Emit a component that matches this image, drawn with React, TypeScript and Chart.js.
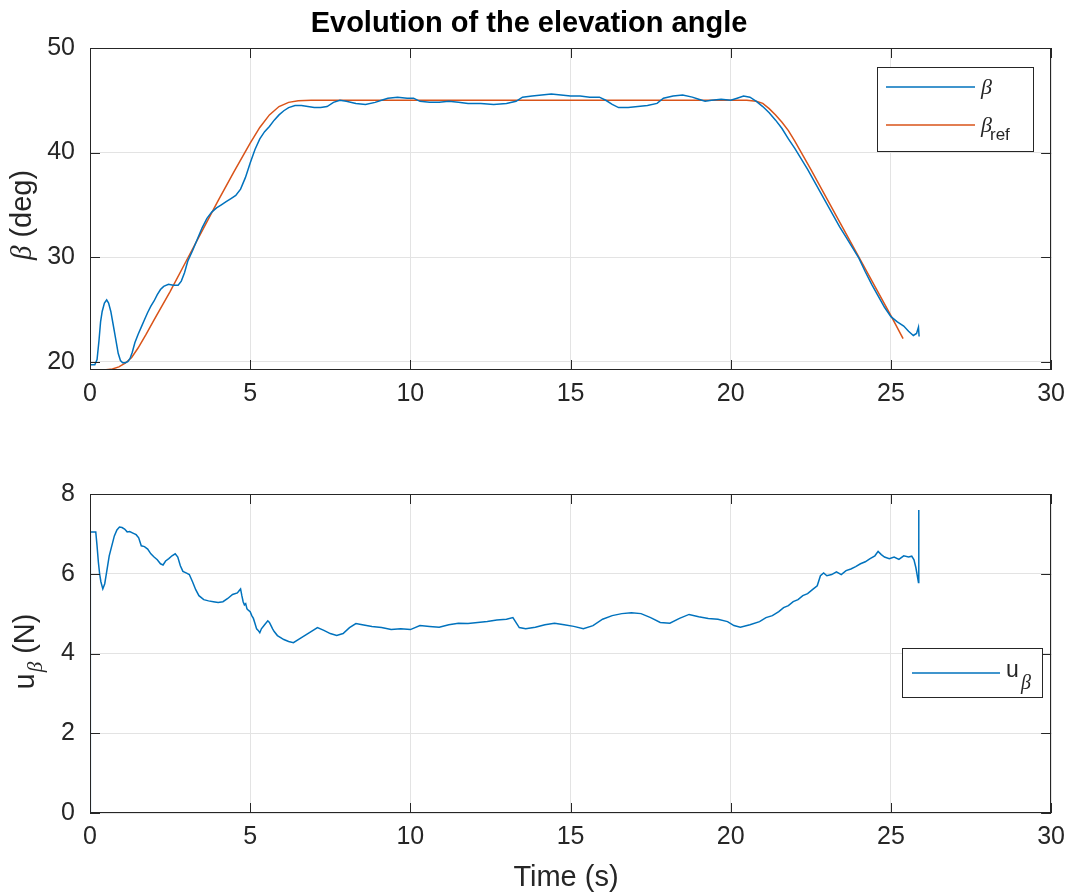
import React, { useEffect, useRef } from "react";
import { Chart, registerables } from "chart.js";

Chart.register(...registerables);

// ---------------- data ----------------
const xTicks = [0, 5, 10, 15, 20, 25, 30];
const betaTicks = [20, 30, 40, 50];
const uTicks = [0, 2, 4, 6, 8];

const timeBeta = [
  0.0, 0.15, 0.22, 0.28, 0.33, 0.38, 0.45, 0.52, 0.58, 0.65, 0.72, 0.8, 0.88, 0.95, 1.02, 1.1, 1.18, 1.25, 1.32, 1.4,
  1.5, 1.6, 1.7, 1.8, 1.9, 2.0, 2.1, 2.2, 2.3, 2.45, 2.6, 2.75, 2.85, 2.95, 3.05, 3.2, 3.35, 3.5, 3.65, 3.8,
  3.95, 4.1, 4.25, 4.4, 4.55, 4.7, 4.85, 5.0, 5.15, 5.3, 5.45, 5.6, 5.75, 5.9, 6.05, 6.2, 6.4, 6.6, 6.8, 7.0,
  7.2, 7.4, 7.6, 7.8, 8.0, 8.3, 8.6, 8.9, 9.1, 9.3, 9.6, 9.9, 10.1, 10.3, 10.6, 10.9, 11.2, 11.5, 11.8, 12.2,
  12.6, 13.0, 13.3, 13.5, 13.8, 14.1, 14.4, 14.7, 15.0, 15.3, 15.6, 15.9, 16.1, 16.3, 16.5, 16.8, 17.1, 17.4, 17.7, 17.9,
  18.2, 18.5, 18.8, 19.0, 19.2, 19.4, 19.7, 20.0, 20.2, 20.4, 20.6, 20.8, 21.0, 21.2, 21.4, 21.6, 21.8, 22.0, 22.2, 22.4,
  22.6, 22.8, 23.0, 23.2, 23.4, 23.6, 23.8, 24.0, 24.2, 24.4, 24.6, 24.8, 25.0, 25.2, 25.4, 25.55, 25.7, 25.8, 25.86, 25.88,
];
const betaValues = [
  19.7, 19.7, 20.2, 22.0, 23.8, 24.8, 25.6, 25.9, 25.6, 24.8, 23.6, 22.2, 20.8, 20.1, 19.9, 19.9, 20.0, 20.3, 20.9, 21.8,
  22.6, 23.3, 24.0, 24.7, 25.3, 25.8, 26.4, 26.9, 27.2, 27.4, 27.3, 27.3, 27.7, 28.5, 29.6, 30.6, 31.7, 32.8, 33.7, 34.3,
  34.7, 35.0, 35.3, 35.6, 35.9, 36.5, 37.6, 39.0, 40.3, 41.3, 42.0, 42.5, 43.1, 43.6, 44.0, 44.3, 44.5, 44.5, 44.4, 44.3,
  44.3, 44.4, 44.8, 45.0, 44.9, 44.7, 44.6, 44.8, 45.0, 45.2, 45.3, 45.2, 45.2, 44.9, 44.8, 44.8, 44.9, 44.8, 44.7, 44.7,
  44.6, 44.7, 44.9, 45.3, 45.4, 45.5, 45.6, 45.5, 45.4, 45.4, 45.3, 45.3, 45.0, 44.6, 44.3, 44.3, 44.4, 44.5, 44.7, 45.2,
  45.4, 45.5, 45.3, 45.1, 44.9, 45.0, 45.1, 45.0, 45.2, 45.4, 45.3, 44.9, 44.4, 43.8, 43.1, 42.3, 41.3, 40.4, 39.4, 38.4,
  37.3, 36.2, 35.1, 34.0, 32.9, 31.9, 30.9, 29.9, 28.6, 27.4, 26.3, 25.2, 24.3, 23.8, 23.4, 22.9, 22.5, 22.7, 23.3, 22.4,
];

const timeRef = [
  0.0, 0.5, 0.7, 0.9, 1.1, 1.3, 1.5, 1.75, 2.0, 2.5, 3.0, 3.5, 4.0, 4.5, 5.0, 5.3, 5.6, 5.9, 6.2, 6.5,
  6.9, 20.5, 20.8, 21.0, 21.2, 21.4, 21.6, 21.8, 22.0, 22.5, 23.0, 23.5, 24.0, 24.5, 25.0, 25.38,
];
const betaRefValues = [
  19.2, 19.22, 19.3, 19.5, 19.85, 20.4, 21.3, 22.6, 24.0, 26.7, 29.6, 32.5, 35.4, 38.2, 40.9, 42.4, 43.6, 44.4, 44.8, 44.95,
  45.0, 45.0, 44.9, 44.7, 44.2, 43.6, 42.9, 42.1, 41.1, 38.4, 35.6, 32.8, 30.0, 27.2, 24.4, 22.2,
];

const timeU = [
  0.0, 0.01, 0.18, 0.22, 0.26, 0.3, 0.34, 0.4, 0.46, 0.52, 0.6, 0.68, 0.76, 0.84, 0.92, 1.0, 1.08, 1.16, 1.24, 1.34,
  1.44, 1.52, 1.6, 1.7, 1.8, 1.9, 2.0, 2.1, 2.2, 2.28, 2.36, 2.46, 2.56, 2.66, 2.74, 2.82, 2.9, 3.0, 3.1, 3.2,
  3.3, 3.4, 3.55, 3.7, 3.85, 4.0, 4.15, 4.3, 4.45, 4.6, 4.66, 4.7, 4.74, 4.78, 4.82, 4.86, 4.9, 4.95, 5.0, 5.05,
  5.1, 5.15, 5.2, 5.25, 5.3, 5.35, 5.45, 5.55, 5.6, 5.65, 5.7, 5.75, 5.85, 5.95, 6.05, 6.2, 6.35, 6.5, 6.7, 6.9,
  7.1, 7.3, 7.5, 7.7, 7.9, 8.1, 8.3, 8.5, 8.8, 9.1, 9.4, 9.7, 10.0, 10.3, 10.6, 10.9, 11.2, 11.5, 11.8, 12.1,
  12.4, 12.7, 13.0, 13.2, 13.4, 13.6, 13.9, 14.2, 14.5, 14.8, 15.1, 15.4, 15.7, 16.0, 16.3, 16.6, 16.9, 17.2, 17.5, 17.8,
  18.1, 18.4, 18.7, 19.0, 19.3, 19.6, 19.9, 20.1, 20.3, 20.6, 20.9, 21.1, 21.3, 21.5, 21.65, 21.8, 21.95, 22.1, 22.25, 22.4,
  22.55, 22.7, 22.8, 22.9, 23.0, 23.15, 23.3, 23.45, 23.6, 23.75, 23.9, 24.05, 24.2, 24.35, 24.5, 24.6, 24.7, 24.8, 24.95, 25.1,
  25.25, 25.4, 25.55, 25.65, 25.72, 25.78, 25.86, 25.87,
];
const uValues = [
  0.0, 7.05, 7.05, 6.7, 6.3, 6.0, 5.8, 5.62, 5.75, 6.05, 6.45, 6.7, 6.95, 7.1, 7.17, 7.16, 7.12, 7.05, 7.06, 7.02,
  6.98, 6.9, 6.7, 6.68, 6.62, 6.5, 6.42, 6.35, 6.25, 6.22, 6.32, 6.38, 6.45, 6.5, 6.42, 6.2, 6.06, 6.02, 5.98, 5.8,
  5.6, 5.45, 5.35, 5.32, 5.3, 5.28, 5.3, 5.38, 5.48, 5.52, 5.58, 5.62, 5.45, 5.3, 5.22, 5.25, 5.12, 5.08, 5.05, 4.95,
  4.88, 4.75, 4.62, 4.58, 4.52, 4.62, 4.72, 4.82, 4.78, 4.7, 4.62, 4.55, 4.45, 4.4, 4.35, 4.3, 4.27, 4.35, 4.45, 4.55,
  4.65, 4.58, 4.5, 4.45, 4.5, 4.65, 4.75, 4.72, 4.68, 4.65, 4.6, 4.62, 4.6, 4.7, 4.68, 4.66, 4.72, 4.76, 4.75, 4.78,
  4.8, 4.84, 4.86, 4.9, 4.65, 4.62, 4.66, 4.72, 4.76, 4.72, 4.68, 4.62, 4.7, 4.86, 4.95, 5.0, 5.02, 5.0, 4.9, 4.78,
  4.76, 4.88, 4.98, 4.92, 4.88, 4.86, 4.8, 4.7, 4.66, 4.72, 4.8, 4.9, 4.95, 5.05, 5.15, 5.2, 5.3, 5.35, 5.45, 5.5,
  5.6, 5.7, 5.95, 6.02, 5.95, 5.98, 6.05, 5.98, 6.08, 6.12, 6.18, 6.25, 6.3, 6.38, 6.45, 6.56, 6.48, 6.42, 6.38, 6.42,
  6.36, 6.45, 6.42, 6.44, 6.35, 6.15, 5.78, 7.6,
];

// ---------------- style ----------------
const SANS = '"Liberation Sans", Arial, Helvetica, sans-serif';
const SERIF = '"Liberation Serif", "Times New Roman", serif';
const BLUE = "#0072BD";
const ORANGE = "#D95319";
const AXIS = "#262626";
const GRID = "#E3E3E3";
const W = 1074;
const TOP_H = 440;
const BOT_H = 454;

const pts = (xs: number[], ys: number[]) => xs.map((x, i) => ({ x, y: ys[i] }));

function drawFrame(chart: any) {
  const { ctx, chartArea, scales } = chart;
  const { left, right, top, bottom } = chartArea;
  ctx.save();
  ctx.strokeStyle = AXIS;
  ctx.lineWidth = 1;
  ctx.strokeRect(Math.round(left) + 0.5, Math.round(top) + 0.5, Math.round(right - left) - 1, Math.round(bottom - top) - 1);
  const tl = 10;
  ctx.beginPath();
  scales.x.ticks.forEach((t: any) => {
    const px = Math.round(scales.x.getPixelForValue(t.value)) + 0.5;
    ctx.moveTo(px, bottom);
    ctx.lineTo(px, bottom - tl);
    ctx.moveTo(px, top);
    ctx.lineTo(px, top + tl);
  });
  scales.y.ticks.forEach((t: any) => {
    const py = Math.round(scales.y.getPixelForValue(t.value)) + 0.5;
    ctx.moveTo(left, py);
    ctx.lineTo(left + tl, py);
    ctx.moveTo(right, py);
    ctx.lineTo(right - tl, py);
  });
  ctx.stroke();
  ctx.restore();
}

function legendBox(ctx: CanvasRenderingContext2D, x: number, y: number, w: number, h: number) {
  ctx.fillStyle = "#ffffff";
  ctx.fillRect(x, y, w, h);
  ctx.strokeStyle = AXIS;
  ctx.lineWidth = 1;
  ctx.strokeRect(x + 0.5, y + 0.5, w, h);
}

function legendLine(ctx: CanvasRenderingContext2D, x1: number, x2: number, y: number, color: string) {
  ctx.strokeStyle = color;
  ctx.lineWidth = 1.5;
  ctx.beginPath();
  ctx.moveTo(x1, y);
  ctx.lineTo(x2, y);
  ctx.stroke();
}

const topDecor = {
  id: "topDecor",
  afterDraw(chart: any) {
    drawFrame(chart);
    const ctx = chart.ctx as CanvasRenderingContext2D;
    ctx.save();
    // title
    ctx.fillStyle = "#000000";
    ctx.font = `bold 29px ${SANS}`;
    ctx.textAlign = "center";
    ctx.textBaseline = "alphabetic";
    ctx.fillText("Evolution of the elevation angle", 529, 32);
    // y label
    ctx.fillStyle = AXIS;
    ctx.translate(31, 215);
    ctx.rotate(-Math.PI / 2);
    ctx.font = `italic 29px ${SERIF}`;
    const wb = ctx.measureText("β").width;
    ctx.font = `29px ${SANS}`;
    const wr = ctx.measureText(" (deg)").width;
    const start = -(wb + wr) / 2;
    ctx.textAlign = "left";
    ctx.font = `italic 29px ${SERIF}`;
    ctx.fillText("β", start, 0);
    ctx.font = `29px ${SANS}`;
    ctx.fillText(" (deg)", start + wb, 0);
    ctx.setTransform(1, 0, 0, 1, 0, 0);
    // legend
    legendBox(ctx, 877, 67, 156, 84);
    legendLine(ctx, 886, 975, 87, BLUE);
    legendLine(ctx, 886, 975, 125, ORANGE);
    ctx.fillStyle = AXIS;
    ctx.textAlign = "left";
    ctx.textBaseline = "alphabetic";
    ctx.font = `italic 22px ${SERIF}`;
    ctx.fillText("β", 981, 94);
    ctx.fillText("β", 981, 132);
    ctx.font = `17px ${SANS}`;
    ctx.fillText("ref", 990, 140);
    ctx.restore();
  },
};

const botDecor = {
  id: "botDecor",
  afterDraw(chart: any) {
    drawFrame(chart);
    const ctx = chart.ctx as CanvasRenderingContext2D;
    const off = TOP_H;
    ctx.save();
    ctx.fillStyle = AXIS;
    // x label
    ctx.font = `29px ${SANS}`;
    ctx.textAlign = "center";
    ctx.textBaseline = "alphabetic";
    ctx.fillText("Time (s)", 566, 886 - off);
    // y label
    ctx.translate(34, 652 - off);
    ctx.rotate(-Math.PI / 2);
    ctx.font = `29px ${SANS}`;
    const wu = ctx.measureText("u").width;
    ctx.font = `italic 21px ${SERIF}`;
    const wb = ctx.measureText("β").width;
    ctx.font = `29px ${SANS}`;
    const wn = ctx.measureText(" (N)").width;
    const start = -(wu + wb + wn) / 2;
    ctx.textAlign = "left";
    ctx.fillText("u", start, 0);
    ctx.font = `italic 21px ${SERIF}`;
    ctx.fillText("β", start + wu + 1, 8);
    ctx.font = `29px ${SANS}`;
    ctx.fillText(" (N)", start + wu + wb + 1, 0);
    ctx.setTransform(1, 0, 0, 1, 0, 0);
    // legend
    legendBox(ctx, 902, 648 - off, 140, 49);
    legendLine(ctx, 912, 1000, 673 - off, BLUE);
    ctx.fillStyle = AXIS;
    ctx.textAlign = "left";
    ctx.font = `23px ${SANS}`;
    ctx.fillText("u", 1006, 677 - off);
    ctx.font = `italic 20px ${SERIF}`;
    ctx.fillText("β", 1021, 689 - off);
    ctx.restore();
  },
};

function makeOptions(yMin: number, yMax: number, yTicks: number[], padTop: number, xHeight: number) {
  return {
    animation: false,
    responsive: false,
    maintainAspectRatio: false,
    layout: { padding: { top: padTop, right: 16, left: 0, bottom: 0 } },
    plugins: { legend: { display: false }, title: { display: false }, tooltip: { enabled: false } },
    elements: { point: { radius: 0 }, line: { tension: 0 } },
    scales: {
      x: {
        type: "linear",
        min: 0,
        max: 30,
        afterBuildTicks: (s: any) => {
          s.ticks = xTicks.map((v) => ({ value: v }));
        },
        afterFit: (s: any) => {
          s.height = xHeight;
        },
        grid: { color: GRID, drawTicks: false, lineWidth: 1 },
        border: { display: false },
        ticks: { font: { family: SANS, size: 25 }, color: AXIS, padding: 9, maxRotation: 0, autoSkip: false },
      },
      y: {
        type: "linear",
        min: yMin,
        max: yMax,
        afterBuildTicks: (s: any) => {
          s.ticks = yTicks.map((v) => ({ value: v }));
        },
        afterFit: (s: any) => {
          s.width = 90;
        },
        grid: { color: GRID, drawTicks: false, lineWidth: 1 },
        border: { display: false },
        ticks: { font: { family: SANS, size: 25 }, color: AXIS, padding: 15, autoSkip: false },
      },
    },
  } as any;
}

export default function App() {
  const topRef = useRef<HTMLCanvasElement>(null);
  const botRef = useRef<HTMLCanvasElement>(null);

  useEffect(() => {
    const top = new Chart(topRef.current as HTMLCanvasElement, {
      type: "line",
      data: {
        datasets: [
          { label: "β", data: pts(timeBeta, betaValues), borderColor: BLUE, borderWidth: 1.5, fill: false },
          { label: "βref", data: pts(timeRef, betaRefValues), borderColor: ORANGE, borderWidth: 1.5, fill: false },
        ],
      },
      options: makeOptions(19.2, 50, betaTicks, 48, TOP_H - 370),
      plugins: [topDecor],
    } as any);
    const bot = new Chart(botRef.current as HTMLCanvasElement, {
      type: "line",
      data: {
        datasets: [{ label: "uβ", data: pts(timeU, uValues), borderColor: BLUE, borderWidth: 1.5, fill: false }],
      },
      options: makeOptions(0, 8, uTicks, 494 - TOP_H, BOT_H - (813 - TOP_H)),
      plugins: [botDecor],
    } as any);
    return () => {
      top.destroy();
      bot.destroy();
    };
  }, []);

  return (
    <div style={{ position: "absolute", left: 0, top: 0, width: W, height: TOP_H + BOT_H, background: "#fff" }}>
      <canvas ref={topRef} width={W} height={TOP_H} style={{ display: "block", width: W, height: TOP_H }} />
      <canvas ref={botRef} width={W} height={BOT_H} style={{ display: "block", width: W, height: BOT_H }} />
    </div>
  );
}
